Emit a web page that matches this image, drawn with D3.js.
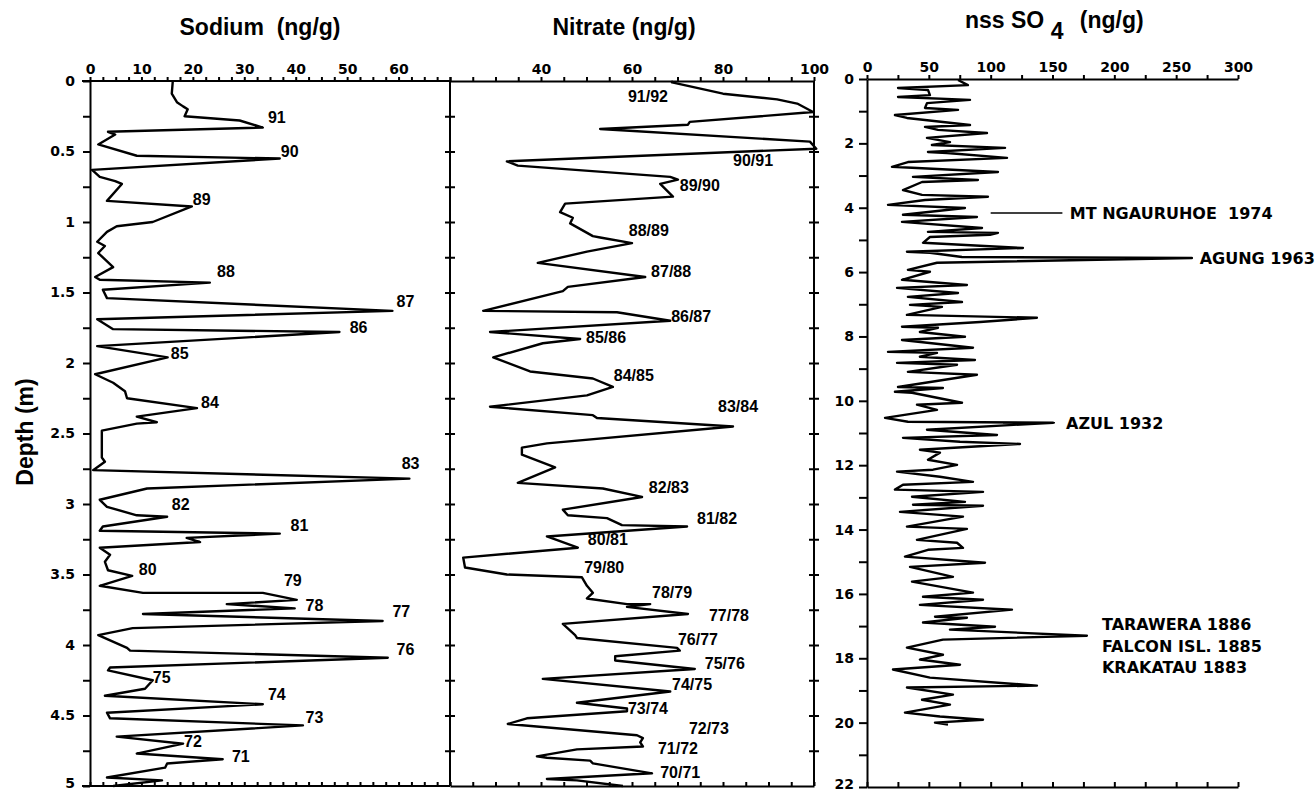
<!DOCTYPE html>
<html>
<head>
  <title>Ice core profiles</title>
  <script src="https://d3js.org/d3.v7.min.js"></script>
  <style>
    body { margin: 0; background: #fff; }
    .tick text { font-family: "DejaVu Sans", sans-serif; font-weight: bold; font-size: 14px; fill: #000; }
    .axis path, .axis line { stroke: #000; stroke-width: 2px; }
    .trace { fill: none; stroke: #000; stroke-width: 2.4px; stroke-linejoin: round; }
    .title { font-family: "Liberation Sans", Arial, sans-serif; font-weight: bold; font-size: 23px; }
    .yr { font-family: "Liberation Sans", Arial, sans-serif; font-weight: bold; font-size: 16px; }
    .volc { font-family: "DejaVu Sans", sans-serif; font-weight: bold; font-size: 16px; }
  </style>
</head>
<body>
  <script>
    // [depth (m), ng/g]
    var sodium = [[0,16.1],[0.09,15.9],[0.15,16.9],[0.18,18.1],[0.20,19.0],[0.25,18.4],[0.28,29.1],[0.33,33.6],
      [0.36,3.5],[0.38,4.9],[0.45,1.6],[0.53,9.1],[0.55,36.9],[0.63,0.4],[0.68,1.9],[0.71,4.9],[0.73,6.2],
      [0.85,3.3],[0.89,19.8],[1.00,12.2],[1.03,5.2],[1.07,3.3],[1.14,1.4],[1.17,2.9],[1.22,1.6],[1.32,4.5],
      [1.39,1.0],[1.41,1.9],[1.43,23.3],[1.48,2.5],[1.54,3.3],[1.63,58.8],[1.69,1.4],[1.76,4.5],[1.78,48.5],
      [1.88,1.4],[1.96,15.1],[2.08,1.0],[2.14,4.5],[2.20,6.8],[2.25,7.2],[2.32,20.8],[2.38,9.1],[2.42,13.0],
      [2.43,9.1],[2.48,2.3],[2.67,2.3],[2.70,2.9],[2.76,0.6],[2.82,62.1],[2.89,11.1],[2.97,1.9],[3.02,3.3],
      [3.08,9.1],[3.09,15.0],[3.16,2.5],[3.19,1.9],[3.21,36.9],[3.24,18.8],[3.27,21.4],[3.31,1.9],[3.36,3.9],
      [3.41,2.9],[3.47,3.5],[3.51,8.2],[3.58,1.9],[3.63,10.3],[3.63,33.6],[3.68,40.2],[3.71,26.6],[3.74,39.8],
      [3.78,10.3],[3.83,56.9],[3.88,8.3],[3.93,1.6],[4.02,7.2],[4.04,7.8],[4.09,57.9],[4.16,3.9],[4.18,3.5],
      [4.25,12.2],[4.31,10.7],[4.36,2.9],[4.42,33.6],[4.48,3.3],[4.52,3.9],[4.57,41.4],[4.65,5.2],[4.70,18.1],
      [4.77,9.1],[4.81,25.8],[4.84,15.0],[4.87,14.6],[4.94,3.3],[4.96,14.0],[5.0,4.5]];

    var nitrate = [[0,69.0],[0.01,68.8],[0.09,80.0],[0.13,91.9],[0.16,96.3],[0.22,99.8],[0.29,72.7],[0.31,72.3],
      [0.34,53.0],[0.43,99.1],[0.48,100.5],[0.57,32.5],[0.60,34.9],[0.68,68.4],[0.70,70.1],[0.73,66.2],
      [0.82,69.0],[0.87,45.3],[0.93,44.2],[0.97,47.0],[1.01,46.4],[1.10,51.4],[1.11,53.0],[1.15,60.0],
      [1.21,50.1],[1.29,39.3],[1.39,62.9],[1.46,45.9],[1.49,44.8],[1.63,27.3],[1.64,56.7],[1.70,68.4],
      [1.78,28.8],[1.83,48.6],[1.86,40.4],[1.96,29.5],[2.06,37.6],[2.11,51.4],[2.17,55.8],[2.23,50.1],
      [2.31,28.8],[2.37,51.4],[2.39,52.3],[2.45,82.2],[2.57,41.3],[2.60,35.8],[2.65,35.8],[2.74,43.1],
      [2.85,34.9],[2.89,53.6],[2.95,62.2],[3.04,44.8],[3.08,45.9],[3.10,54.5],[3.15,57.8],[3.16,72.1],
      [3.23,41.3],[3.31,48.1],[3.38,22.9],[3.45,23.3],[3.50,32.5],[3.52,49.0],[3.58,50.1],[3.63,51.4],
      [3.67,50.1],[3.71,58.9],[3.71,64.0],[3.73,58.9],[3.78,72.3],[3.85,44.8],[3.93,47.5],[3.95,47.9],
      [4.02,69.9],[4.04,70.5],[4.08,56.3],[4.11,56.3],[4.17,73.8],[4.24,40.4],[4.33,68.4],[4.41,47.9],
      [4.45,58.9],[4.47,58.9],[4.52,36.9],[4.56,32.7],[4.64,61.1],[4.66,62.4],[4.69,61.8],[4.72,62.4],
      [4.74,47.9],[4.79,39.1],[4.80,41.3],[4.82,50.8],[4.84,51.4],[4.91,64.4],[4.95,41.3],[4.96,47.9],[5.0,58.0]];

    var sulphate = [[0.03,73.6],[0.19,81.6],[0.28,25.1],[0.34,49.3],[0.50,50.9],[0.56,25.1],[0.65,83.3],
      [0.75,48.5],[0.90,46.9],[0.96,73.6],[1.12,22.6],[1.21,32.3],[1.43,83.3],[1.49,46.9],[1.58,57.4],[1.68,97.0],
      [1.83,48.5],[1.96,67.1],[2.05,52.5],[2.14,111.6],[2.27,49.3],[2.30,64.7],[2.45,113.2],[2.58,33.1],
      [2.73,20.2],[2.76,36.4],[2.89,105.9],[3.04,37.2],[3.14,89.7],[3.20,44.5],[3.45,29.1],[3.60,44.5],
      [3.66,97.8],[3.76,46.9],[3.91,17.0],[4.01,79.2],[4.22,29.1],[4.29,88.9],[4.44,28.3],[4.63,93.0],
      [4.75,49.3],[4.78,105.9],[4.84,99.4],[4.91,50.9],[5.09,45.3],[5.25,126.1],[5.37,32.3],[5.40,50.9],[5.53,76.8],
      [5.56,262.7],[5.71,56.6],[5.93,33.1],[5.99,50.9],[6.24,28.3],[6.40,80.8],[6.49,24.3],[6.65,73.6],
      [6.77,33.1],[6.93,76.8],[7.02,34.8],[7.08,60.6],[7.33,32.3],[7.42,137.4],[7.55,91.4],[7.70,28.3],
      [7.73,57.4],[7.86,42.8],[8.01,79.2],[8.11,28.3],[8.35,85.7],[8.48,17.0],[8.51,56.6],[8.63,42.8],
      [8.73,87.3],[8.82,24.3],[8.88,72.8],[9.10,33.1],[9.19,88.9],[9.57,25.1],[9.60,61.4],[9.72,22.6],
      [9.75,36.4],[10.06,76.8],[10.12,40.4],[10.28,56.6],[10.53,14.6],[10.65,33.1],[10.68,150.4],
      [10.90,48.5],[11.06,105.1],[11.15,29.1],[11.27,75.2],[11.34,123.7],[11.52,42.8],[11.61,59.0],
      [11.83,49.3],[11.99,72.8],[12.14,53.4],[12.20,24.3],[12.36,59.0],[12.52,85.7],[12.61,29.1],
      [12.76,22.6],[12.83,93.8],[12.98,36.4],[13.14,79.2],[13.23,37.2],[13.26,93.8],[13.45,26.7],
      [13.60,77.6],[13.91,32.3],[13.98,80.8],[14.32,40.4],[14.41,72.8],[14.57,77.6],[14.63,49.3],
      [14.84,30.7],[15.03,95.4],[15.16,34.8],[15.47,69.5],[15.62,36.4],[15.96,85.7],[16.09,45.3],
      [16.18,93.8],[16.34,42.8],[16.49,117.2],[16.71,55.0],[16.74,80.8],[16.89,45.3],[17.02,103.5],
      [17.11,67.1],[17.30,177.8],[17.42,61.4],[17.67,32.3],[17.89,61.4],[18.04,42.8],[18.20,75.2],
      [18.35,21.0],[18.60,50.9],[18.85,137.4],[18.91,32.3],[19.13,69.5],[19.29,44.5],[19.44,67.1],
      [19.69,30.7],[19.81,59.0],[19.91,93.8],[20.0,55.0],[20.06,65.5]];

    // season labels: [text, depth of baseline, value at left edge]
    var sodiumLabels = [["91",0.30,34.6],["90",0.54,37.1],["89",0.88,20.0],["88",1.39,24.7],["87",1.60,59.6],
      ["86",1.79,50.5],["85",1.97,15.7],["84",2.32,21.6],["83",2.75,60.6],["82",3.04,15.9],["81",3.19,39.0],
      ["80",3.50,9.5],["79",3.58,37.7],["78",3.76,41.9],["77",3.80,58.8],["76",4.07,59.6],["75",4.27,12.2],
      ["74",4.39,34.6],["73",4.55,41.9],["72",4.72,18.3],["71",4.83,27.6]];
    var nitrateLabels = [["91/92",0.15,59.1],["90/91",0.60,82.2],["89/90",0.78,70.5],["88/89",1.10,59.3],
      ["87/88",1.39,64.2],["86/87",1.71,68.6],["85/86",1.86,49.9],["84/85",2.13,56.0],["83/84",2.35,78.9],
      ["82/83",2.92,63.7],["81/82",3.14,74.3],["80/81",3.29,50.3],["79/80",3.49,49.5],["78/79",3.67,64.4],
      ["77/78",3.83,76.9],["76/77",4.00,70.1],["75/76",4.17,76.0],["74/75",4.32,68.8],["73/74",4.49,59.1],
      ["72/73",4.63,72.5],["71/72",4.77,65.7],["70/71",4.94,66.2]];
    // volcanic events: [lines of text, depth, leader start, leader end, text start]
    var volcanoes = [[["MT NGAURUHOE  1974"],4.16,100,158,164],[["AGUNG 1963"],5.56,262,262,269],
      [["AZUL 1932"],10.68,110,152,161],[["TARAWERA 1886","FALCON ISL. 1885","KRAKATAU 1883"],16.95,null,null,190]];

    var svg = d3.select("body").append("svg").attr("width", 1316).attr("height", 791);

    var y1 = d3.scaleLinear().domain([0, 5]).range([81, 786]);
    var y2 = d3.scaleLinear().domain([0, 22]).range([79, 787]);
    var xNa = d3.scaleLinear().domain([0, 70]).range([90, 450]);
    var xNo = d3.scaleLinear().domain([20, 100]).range([450, 814]);
    var xSo = d3.scaleLinear().domain([0, 300]).range([867, 1238]);

    function axis(gen, x, y, noLine) {
      var g = svg.append("g").attr("class", "axis").attr("transform", "translate(" + x + "," + y + ")").call(gen);
      if (noLine) g.select(".domain").remove();
      return g;
    }
    var inner = d3.range(0.25, 5, 0.25);

    // sodium
    axis(d3.axisTop(xNa).tickValues(d3.range(0, 70.1, 2.5)).tickSize(4).tickSizeOuter(0)
      .tickFormat(function(d) { return d % 10 === 0 && d <= 60 ? d : ""; }), 0, 81)
      .select(".domain").attr("d", "M82,0H450");
    axis(d3.axisBottom(xNa).tickValues(d3.range(0, 70.1, 2.5)).tickSize(-4).tickSizeOuter(0).tickFormat(""), 0, 786)
      .select(".domain").attr("d", "M82,0H450");
    var left = axis(d3.axisLeft(y1).tickValues(d3.range(0, 5.01, 0.25)).tickSize(7).tickPadding(8).tickSizeOuter(0)
      .tickFormat(function(d) { return d % 0.5 === 0 ? d : ""; }), 90, 0);
    // nitrate
    axis(d3.axisTop(xNo).tickValues(d3.range(20, 100.1, 5)).tickSize(4).tickSizeOuter(0)
      .tickFormat(function(d) { return d % 20 === 0 && d > 20 ? d : ""; }), 0, 81);
    axis(d3.axisBottom(xNo).tickValues(d3.range(20, 100.1, 5)).tickSize(-4).tickSizeOuter(0).tickFormat(""), 0, 786);
    axis(d3.axisLeft(y1).tickValues(inner).tickSize(5).tickSizeOuter(0).tickFormat(""), 455, 0, true);
    axis(d3.axisRight(y1).tickValues(inner).tickSize(5).tickSizeOuter(0).tickFormat(""), 445, 0, true);
    axis(d3.axisLeft(y1).tickValues(inner).tickSize(5).tickSizeOuter(0).tickFormat(""), 819, 0, true);
    axis(d3.axisRight(y1).tickValues(inner).tickSize(5).tickSizeOuter(0).tickFormat(""), 809, 0, true);
    [450, 814].forEach(function(x) {
      svg.append("line").attr("x1", x).attr("x2", x).attr("y1", y1(0)).attr("y2", y1(5))
        .attr("stroke", "#000").attr("stroke-width", 2);
    });
    // sulphate
    axis(d3.axisTop(xSo).tickValues(d3.range(0, 300.1, 25)).tickSize(4).tickSizeOuter(0)
      .tickFormat(function(d) { return d % 50 === 0 ? d : ""; }), 0, 79);
    axis(d3.axisBottom(xSo).tickValues(d3.range(0, 300.1, 25)).tickSize(-5).tickSizeOuter(0).tickFormat(""), 0, 787);
    var right = axis(d3.axisLeft(y2).tickValues(d3.range(0, 22.1, 1)).tickSize(8).tickPadding(5).tickSizeOuter(0)
      .tickFormat(function(d) { return d % 2 === 0 ? d : ""; }), 867, 0);
    // keep the bottom depth labels inside the page
    left.selectAll(".tick text").filter(function(d) { return d === 5; }).attr("dy", "0.1em");
    right.selectAll(".tick text").filter(function(d) { return d === 22; }).attr("dy", "0.1em");

    var lineNa = d3.line().x(function(d) { return xNa(d[1]); }).y(function(d) { return y1(d[0]); });
    var lineNo = d3.line().x(function(d) { return xNo(d[1]); }).y(function(d) { return y1(d[0]); });
    var lineSo = d3.line().x(function(d) { return xSo(d[1]); }).y(function(d) { return y2(d[0]); });
    svg.append("path").datum(sodium).attr("class", "trace").attr("d", lineNa);
    svg.append("path").datum(nitrate).attr("class", "trace").attr("d", lineNo);
    svg.append("path").datum(sulphate).attr("class", "trace").attr("stroke-width", 2.6).attr("d", lineSo);

    svg.selectAll(".lna").data(sodiumLabels).enter().append("text").attr("class", "yr")
      .attr("x", function(d) { return xNa(d[2]); }).attr("y", function(d) { return y1(d[1]); })
      .text(function(d) { return d[0]; });
    svg.selectAll(".lno").data(nitrateLabels).enter().append("text").attr("class", "yr")
      .attr("x", function(d) { return xNo(d[2]); }).attr("y", function(d) { return y1(d[1]); })
      .text(function(d) { return d[0]; });

    volcanoes.forEach(function(v) {
      if (v[2] !== null && v[3] > v[2])
        svg.append("line").attr("x1", xSo(v[2])).attr("x2", xSo(v[3])).attr("y1", y2(v[1])).attr("y2", y2(v[1]))
          .attr("stroke", "#000").attr("stroke-width", 1.5);
      var t = svg.append("text").attr("class", "volc").attr("x", xSo(v[4])).attr("y", y2(v[1]) + 6)
        .attr("xml:space", "preserve");
      v[0].forEach(function(s, i) {
        t.append("tspan").attr("x", xSo(v[4])).attr("dy", i ? 21.5 : 0).text(s);
      });
    });

    // titles
    svg.append("text").attr("class", "title").attr("x", 260).attr("y", 35).attr("text-anchor", "middle")
      .attr("xml:space", "preserve").text("Sodium  (ng/g)");
    svg.append("text").attr("class", "title").attr("x", 624).attr("y", 35).attr("text-anchor", "middle").text("Nitrate (ng/g)");
    var so = svg.append("text").attr("class", "title").attr("x", 965).attr("y", 28).attr("font-size", 22);
    so.append("tspan").text("nss SO ");
    so.append("tspan").attr("dy", 11).text("4");
    so.append("tspan").attr("dy", -11).attr("dx", 10).text(" (ng/g)");
    svg.append("text").attr("class", "title").attr("font-size", 21)
      .attr("transform", "translate(33,432) rotate(-90)").attr("text-anchor", "middle").text("Depth (m)");
  </script>
</body>
</html>
